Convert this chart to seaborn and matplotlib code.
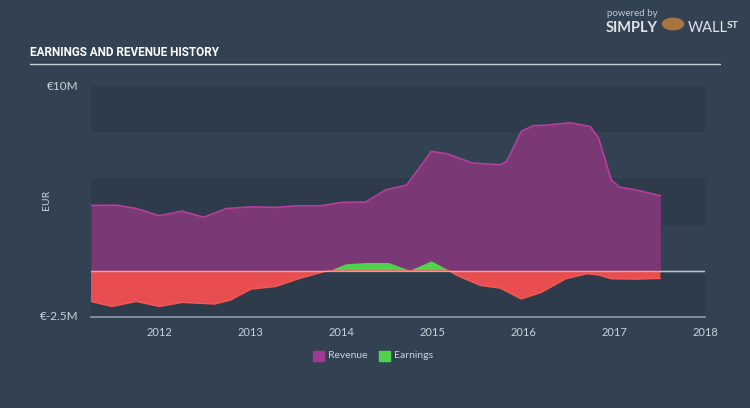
import matplotlib
matplotlib.use("Agg")
import matplotlib.pyplot as plt
import seaborn as sns
import pandas as pd
import numpy as np
from matplotlib.patches import Rectangle

# ---- data (EUR millions) ----
rev_years = [2011.25, 2011.53, 2011.75, 2012.0, 2012.25, 2012.49, 2012.74, 2013.01,
             2013.28, 2013.51, 2013.78, 2014.0, 2014.27, 2014.49, 2014.72, 2014.90,
             2014.99, 2015.17, 2015.44, 2015.75, 2015.82, 2015.98, 2016.11, 2016.25,
             2016.52, 2016.74, 2016.83, 2016.97, 2017.06, 2017.24, 2017.51]
revenue = [3.54, 3.55, 3.37, 2.98, 3.23, 2.90, 3.37, 3.46,
           3.43, 3.52, 3.52, 3.70, 3.72, 4.38, 4.64, 5.83,
           6.46, 6.33, 5.83, 5.74, 5.92, 7.54, 7.85, 7.88,
           8.01, 7.81, 7.18, 4.92, 4.53, 4.38, 4.06]

earn_years = [2011.25, 2011.48, 2011.75, 2012.0, 2012.25, 2012.61, 2012.79, 2013.01,
              2013.28, 2013.55, 2013.82, 2013.87, 2014.05, 2014.27, 2014.52, 2014.72,
              2014.76, 2014.99, 2015.19, 2015.26, 2015.53, 2015.75, 2015.98, 2016.20,
              2016.47, 2016.70, 2016.83, 2016.97, 2017.24, 2017.51]
earnings = [-1.66, -1.93, -1.66, -1.93, -1.71, -1.80, -1.57, -0.99,
            -0.85, -0.40, -0.04, 0.02, 0.38, 0.45, 0.45, 0.09,
            0.05, 0.54, 0.02, -0.22, -0.79, -0.94, -1.52, -1.17,
            -0.43, -0.16, -0.23, -0.43, -0.45, -0.41]

x_ticks = [2012, 2013, 2014, 2015, 2016, 2017, 2018]
y_tick_vals = [10, -2.5]
y_tick_labels = ["€10M", "€-2.5M"]

BG = "#334252"
BAND = "#2d3b4a"
PURPLE = "#7a3975"
PURPLE_EDGE = "#b4409c"
RED = "#e84e50"
GREEN = "#4fd34d"
TXT = "#c9d1d9"

sns.set_theme(style="white")
plt.rcParams["font.family"] = ["Lato", "DejaVu Sans"]

fig = plt.figure(figsize=(7.5, 4.08), dpi=100)
fig.patch.set_facecolor(BG)
ax = fig.add_axes([91 / 750, 1 - 317 / 408, (705 - 91) / 750, (317 - 86) / 408])
ax.set_facecolor(BG)
ax.set_xlim(2011.25, 2018)
ax.set_ylim(-2.5, 10)

# horizontal bands
for lo, hi in [(7.5, 10), (2.5, 5), (-2.5, 0)]:
    ax.axhspan(lo, hi, color=BAND, zorder=0, lw=0)

rev_df = pd.DataFrame({"year": rev_years, "value": revenue})
earn_df = pd.DataFrame({"year": earn_years, "value": earnings})

ax.fill_between(rev_df["year"], 0, rev_df["value"], color=PURPLE, lw=0, zorder=2)
sns.lineplot(data=rev_df, x="year", y="value", ax=ax, color=PURPLE_EDGE, lw=1.2, zorder=3)

ey = np.array(earn_years)
ev = np.array(earnings)
ax.fill_between(ey, 0, ev, where=ev <= 0, interpolate=True, color=RED, lw=0, zorder=4)
ax.fill_between(ey, 0, ev, where=ev >= 0, interpolate=True, color=GREEN, lw=0, zorder=4)
neg = earn_df.copy()
neg["value"] = np.minimum(ev, 0)
sns.lineplot(data=neg, x="year", y="value", ax=ax, color="#f05a5a", lw=1.0, zorder=5)

ax.axhline(0, color="white", alpha=0.45, lw=1.0, zorder=6)
ax.axhline(0, xmin=(2017.51 - 2011.25) / (2018 - 2011.25), color="#b8c2cc", lw=1.0, zorder=6)

# axes styling
for s in ["top", "right", "left"]:
    ax.spines[s].set_visible(False)
ax.spines["bottom"].set_color("#8c9aa8")
ax.spines["bottom"].set_linewidth(1.2)
ax.set_xticks(x_ticks)
ax.set_xticklabels([str(t) for t in x_ticks], color=TXT, fontsize=8)
ax.tick_params(axis="x", length=5, width=1, color="#8c9aa8", pad=2, direction="out")
ax.set_yticks([])
ax.set_xlabel("")
ax.set_ylabel("")
ax.grid(False)
if ax.get_legend():
    ax.get_legend().remove()

for v, lab in zip(y_tick_vals, y_tick_labels):
    ax.text(-0.02, v, lab, transform=ax.get_yaxis_transform(), ha="right", va="center",
            color=TXT, fontsize=8.5)
fig.text(47 / 750, 1 - 200 / 408, "EUR", rotation=90, ha="center", va="center",
         color=TXT, fontsize=7.5)

# title + rule
fig.text(30 / 750, 1 - 52 / 408, "EARNINGS AND REVENUE HISTORY", color="white",
         fontsize=8.5, fontweight="bold", family=["Roboto", "DejaVu Sans"],
         ha="left", va="center")
fig.add_artist(plt.Line2D([30 / 750, 720 / 750], [1 - 64 / 408, 1 - 64 / 408],
                          color="#c8d0d8", lw=1.0, transform=fig.transFigure))

# branding
fig.text(607 / 750, 1 - 14 / 408, "powered by", color="#c0c8d0", fontsize=7, ha="left", va="center")
fig.text(606 / 750, 1 - 28 / 408, "SIMPLY", color="#dde3e8", fontsize=10.5, fontweight="bold",
         ha="left", va="center")
fig.add_artist(plt.Circle((673 / 750, 1 - 24 / 408), 0.014, color="#a8773f",
                          transform=fig.transFigure))
fig.text(688 / 750, 1 - 28 / 408, "WALL", color="#dde3e8", fontsize=10.5, ha="left", va="center")
fig.text(727 / 750, 1 - 26 / 408, "ST", color="#dde3e8", fontsize=7.5, fontweight="bold",
         ha="left", va="center")

# legend
ly = 1 - 356 / 408
fig.add_artist(Rectangle((313 / 750, ly - 5 / 408), 11 / 750, 10 / 408, color="#a13a92",
                         transform=fig.transFigure))
fig.text(328 / 750, ly, "Revenue", color=TXT, fontsize=7.5, ha="left", va="center")
fig.add_artist(Rectangle((379 / 750, ly - 5 / 408), 11 / 750, 10 / 408, color=GREEN,
                         transform=fig.transFigure))
fig.text(394 / 750, ly, "Earnings", color=TXT, fontsize=7.5, ha="left", va="center")

fig.savefig("out.png", dpi=100, facecolor=BG)
